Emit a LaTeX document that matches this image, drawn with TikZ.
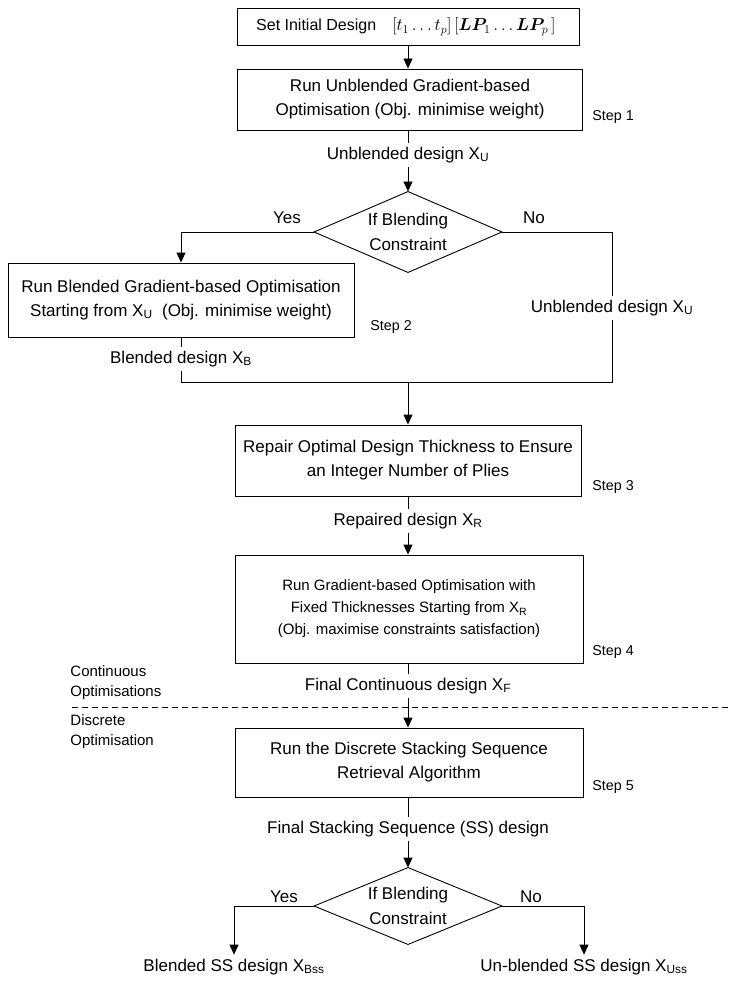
\documentclass[tikz,border=0pt]{standalone}
\usepackage{amsmath,bm}
\usepackage{fontspec}
\setmainfont{Liberation Sans}
\usetikzlibrary{arrows.meta}

\tikzset{
  box/.style={draw, line width=0.9pt, align=center, inner sep=0pt, font=\fontsize{17}{24}\selectfont},
  decision/.style={align=center, inner sep=0pt, minimum width=187pt, minimum height=80pt,
    font=\fontsize{17}{25}\selectfont},
  lbl/.style={inner sep=4pt, font=\fontsize{17}{20}\selectfont},
  steplabel/.style={inner sep=0pt, font=\fontsize{14.3}{16}\selectfont},
  side/.style={inner sep=0pt, align=left, font=\fontsize{15}{20}\selectfont},
  arr/.style={-{Triangle[length=10pt,width=9pt]}},
}
\newcommand{\sub}[1]{\textsubscript{#1}}

\begin{document}
\begin{tikzpicture}[x=1pt, y=-1pt, line width=0.9pt]
  \useasboundingbox (0,0) rectangle (728,984);

  \node[box, minimum width=342pt, minimum height=37pt, font=\fontsize{16}{20}\selectfont] (init) at (408,26.5)
    { Set Initial Design\quad {\fontsize{18}{20}\selectfont $[t_1 \ldots t_p]\,[\bm{LP}_1 \ldots \bm{LP}_p\,]$} };

  \node[box, minimum width=345pt, minimum height=61pt] (run1) at (410,99.5)
    { Run Unblended Gradient-based\\ Optimisation (Obj. minimise weight) };
  \node[steplabel, anchor=west] (step1) at (592,117) { Step 1 };
  \draw[arr] (init) -- (init |- run1.north);

  \node[lbl] (ulab) at (408,155) { Unblended design X\sub{U} };
  \draw (ulab |- run1.south) -- (ulab);

  \node[decision] (blend1) at (408,232) { If Blending\\ Constraint };
  \draw (blend1.north) -- (blend1.east) -- (blend1.south) -- (blend1.west) -- cycle;
  \draw[arr] (ulab) -- (blend1);

  \node[box, minimum width=346pt, minimum height=74pt] (run2) at (181,300)
    { Run Blended Gradient-based Optimisation\\ Starting from X\sub{U} \ (Obj. minimise weight) };
  \node[steplabel, anchor=west] (step2) at (370,327) { Step 2 };
  \node[lbl] (yes1) at (287,218) { Yes };
  \draw[arr] (blend1.west) -| (run2.north);

  \node[lbl] (no1) at (534,218) { No };
  \node[lbl] (ulab2) at (612,308) { Unblended design X\sub{U} };
  \draw (blend1.east) -| (ulab2.north);

  \node[lbl] (blab) at (181,359) { Blended design X\sub{B} };
  \draw (run2) -- (blab);

  \coordinate (joinl) at (181,382);
  \coordinate (joinr) at (612,382);
  \coordinate (joinm) at (408,382);
  \draw (blab) -- (joinl) -- (joinr) -- (ulab2);

  \node[box, minimum width=346pt, minimum height=71pt] (repair) at (408,460.5)
    { Repair Optimal Design Thickness to Ensure\\ an Integer Number of Plies };
  \node[steplabel, anchor=west] (step3) at (592,487) { Step 3 };
  \draw[arr] (joinm) -- (repair);

  \node[lbl] (rlab) at (408,521) { Repaired design X\sub{R} };
  \draw (repair) -- (rlab);

  \node[box, minimum width=348pt, minimum height=108pt, font=\fontsize{15}{22}\selectfont] (run3) at (409,609)
    { Run Gradient-based Optimisation with\\ Fixed Thicknesses Starting from X\sub{R}\\ (Obj. maximise constraints satisfaction) };
  \node[steplabel, anchor=west] (step4) at (592,652) { Step 4 };
  \draw[arr] (rlab) -- (rlab |- run3.north);

  \node[lbl] (flab) at (408,686) { Final Continuous design X\sub{F} };
  \draw (flab |- run3.south) -- (flab);

  % continuous / discrete split
  \draw[dashed, dash pattern=on 6pt off 4pt] (72,707) -- (728,707);
  \node[side, anchor=west] (cont) at (70,683) { Continuous\\ Optimisations };
  \node[side, anchor=west] (disc) at (70,732) { Discrete\\ Optimisation };

  \node[box, minimum width=348pt, minimum height=69pt] (retr) at (409,762.5)
    { Run the Discrete Stacking Sequence\\ Retrieval Algorithm };
  \node[steplabel, anchor=west] (step5) at (592,787) { Step 5 };
  \draw[arr] (flab) -- (flab |- retr.north);

  \node[lbl] (sslab) at (408,829) { Final Stacking Sequence (SS) design };
  \draw (sslab |- retr.south) -- (sslab);

  \node[decision, minimum height=76pt] (blend2) at (408,906) { If Blending\\ Constraint };
  \draw (blend2.north) -- (blend2.east) -- (blend2.south) -- (blend2.west) -- cycle;
  \draw[arr] (sslab) -- (blend2);

  \node[lbl] (yes2) at (284,897) { Yes };
  \node[lbl] (no2) at (531,897) { No };

  \node[lbl] (bss) at (234,967) { Blended SS design X\sub{Bss} };
  \node[lbl] (uss) at (584,967) { Un-blended SS design X\sub{Uss} };
  \draw[arr] (blend2.west) -| (bss.north);
  \draw[arr] (blend2.east) -| (uss.north);
\end{tikzpicture}
\end{document}
